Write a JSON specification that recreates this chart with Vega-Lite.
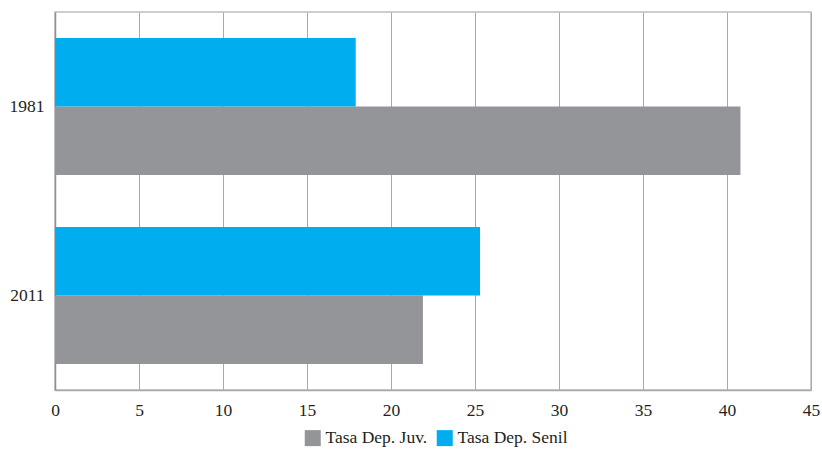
{
  "$schema": "https://vega.github.io/schema/vega-lite/v6.json",
  "width": 756,
  "height": 378,
  "autosize": {"type": "none"},
  "padding": {"left": 55, "top": 12, "right": 11, "bottom": 63},
  "background": "white",
  "data": {
    "values": [
      {"anio": "1981", "serie": "Tasa Dep. Juv.", "valor": 40.8},
      {"anio": "1981", "serie": "Tasa Dep. Senil", "valor": 17.9},
      {"anio": "2011", "serie": "Tasa Dep. Juv.", "valor": 21.9},
      {"anio": "2011", "serie": "Tasa Dep. Senil", "valor": 25.3}
    ]
  },
  "mark": {"type": "bar"},
  "encoding": {
    "y": {
      "field": "anio",
      "type": "nominal",
      "sort": ["1981", "2011"],
      "scale": {"paddingInner": 0.275, "paddingOuter": 0.1375},
      "axis": {
        "title": null,
        "ticks": false,
        "domain": true,
        "domainColor": "#8d8f92",
        "domainWidth": 1.5,
        "labelFont": "Liberation Serif",
        "labelFontSize": 17.5,
        "labelColor": "#231f20",
        "labelPadding": 11
      }
    },
    "yOffset": {
      "field": "serie",
      "type": "nominal",
      "sort": ["Tasa Dep. Senil", "Tasa Dep. Juv."],
      "scale": {"paddingInner": 0, "paddingOuter": 0}
    },
    "x": {
      "field": "valor",
      "type": "quantitative",
      "scale": {"domain": [0, 45], "nice": false},
      "axis": {
        "title": null,
        "values": [0, 5, 10, 15, 20, 25, 30, 35, 40, 45],
        "ticks": false,
        "domain": true,
        "domainColor": "#a7a9ac",
        "domainWidth": 1.5,
        "grid": true,
        "gridColor": "#a7a9ac",
        "gridWidth": 1,
        "labelFont": "Liberation Serif",
        "labelFontSize": 17.5,
        "labelColor": "#231f20",
        "labelPadding": 11,
        "labelFlush": false
      }
    },
    "color": {
      "field": "serie",
      "type": "nominal",
      "scale": {
        "domain": ["Tasa Dep. Juv.", "Tasa Dep. Senil"],
        "range": ["#939598", "#00aeef"]
      },
      "legend": {
        "title": null,
        "orient": "none",
        "direction": "horizontal",
        "legendX": 249,
        "legendY": 417,
        "symbolType": "square",
        "symbolSize": 256,
        "symbolStrokeWidth": 0,
        "symbolOpacity": 1,
        "labelFont": "Liberation Serif",
        "labelFontSize": 17.5,
        "labelColor": "#231f20",
        "labelOffset": 4,
        "columnPadding": 8
      }
    }
  },
  "config": {
    "view": {"stroke": "#bcbec0", "strokeWidth": 1.5}
  }
}
